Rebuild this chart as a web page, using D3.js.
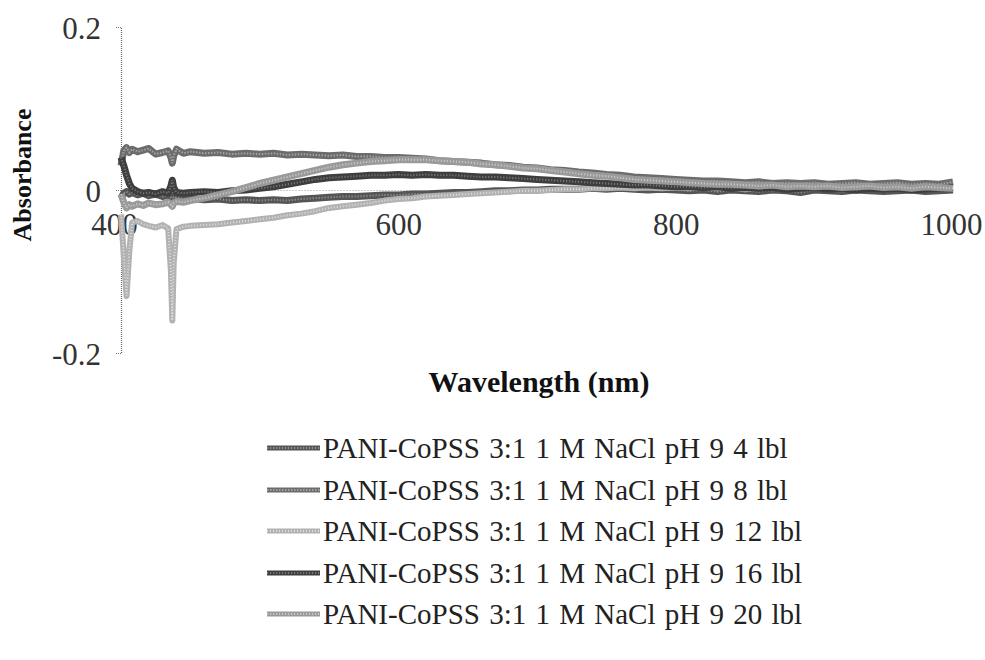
<!DOCTYPE html>
<html>
<head>
<meta charset="utf-8">
<script src="https://cdn.jsdelivr.net/npm/d3@7"></script>
<style>
  html, body { margin: 0; padding: 0; background: #fff; }
  svg { display: block; }
  text { font-family: "Liberation Serif", "Times New Roman", serif; }
</style>
</head>
<body>
<svg id="chart" width="985" height="660"></svg>
<script>
// ---------------- DATA ----------------
const wavelengths = [400,402,404,406,408,412,416,420,425,430,434,436,437,438,440,445,450,
  460,470,480,490,500,510,520,530,540,550,560,570,580,590,600,610,620,630,640,650,660,670,680,690,
  700,710,720,730,740,750,760,770,780,790,800,810,820,830,840,850,860,870,880,890,900,910,920,930,
  940,950,960,970,980,990,1000];

const seriesNames = [
  "PANI-CoPSS 3:1 1 M NaCl pH 9 4 lbl",
  "PANI-CoPSS 3:1 1 M NaCl pH 9 8 lbl",
  "PANI-CoPSS 3:1 1 M NaCl pH 9 12 lbl",
  "PANI-CoPSS 3:1 1 M NaCl pH 9 16 lbl",
  "PANI-CoPSS 3:1 1 M NaCl pH 9 20 lbl"
];

// 4 lbl
const abs4 = [-0.010,-0.004,-0.002,-0.005,-0.003,-0.006,-0.004,-0.007,-0.005,-0.008,-0.006,-0.009,-0.008,-0.010,-0.009,-0.011,-0.010,
  -0.012,-0.011,-0.013,-0.012,-0.013,-0.012,-0.013,-0.011,-0.010,-0.009,-0.008,-0.008,-0.007,-0.006,-0.006,-0.005,-0.005,-0.004,-0.003,
  -0.003,-0.002,-0.001,-0.001,0.000,0.000,0.001,0.001,0.001,0.002,0.001,0.002,0.001,0.000,0.001,0.000,-0.001,0.000,-0.002,0.000,
  -0.001,-0.002,0.000,-0.001,-0.003,0.000,-0.001,-0.002,0.000,-0.001,-0.002,-0.001,0.000,-0.002,-0.001,0.000];
// 8 lbl
const abs8 = [0.030,0.048,0.052,0.046,0.050,0.047,0.049,0.051,0.044,0.046,0.048,0.040,0.033,0.042,0.050,0.045,0.047,
  0.045,0.046,0.044,0.045,0.044,0.045,0.043,0.044,0.043,0.042,0.043,0.041,0.041,0.040,0.040,0.039,0.038,0.036,0.035,
  0.034,0.033,0.031,0.030,0.028,0.027,0.025,0.024,0.022,0.021,0.019,0.018,0.016,0.015,0.014,0.013,0.012,0.011,0.011,0.010,
  0.009,0.010,0.008,0.009,0.008,0.009,0.007,0.008,0.009,0.007,0.008,0.009,0.007,0.008,0.007,0.010];
// 12 lbl
const abs12 = [-0.030,-0.080,-0.130,-0.075,-0.040,-0.038,-0.042,-0.044,-0.046,-0.043,-0.047,-0.100,-0.160,-0.090,-0.048,-0.045,-0.044,
  -0.043,-0.042,-0.040,-0.038,-0.036,-0.034,-0.031,-0.029,-0.026,-0.022,-0.020,-0.018,-0.016,-0.013,-0.011,-0.010,-0.008,-0.007,-0.006,
  -0.005,-0.004,-0.003,-0.002,-0.001,-0.001,0.000,0.001,0.001,0.002,0.002,0.003,0.002,0.003,0.002,0.003,0.002,0.004,0.002,0.003,
  0.001,0.003,0.002,0.004,0.002,0.003,0.001,0.003,0.002,0.004,0.002,0.003,0.001,0.003,0.002,0.004];
// 16 lbl
const abs16 = [0.040,0.030,0.018,0.008,0.002,-0.002,-0.004,-0.003,-0.005,-0.002,-0.004,0.005,0.012,0.003,-0.003,-0.004,-0.003,
  -0.002,-0.003,-0.001,0.000,0.002,0.004,0.007,0.010,0.013,0.015,0.016,0.017,0.018,0.018,0.019,0.018,0.019,0.018,0.018,
  0.017,0.016,0.016,0.015,0.014,0.013,0.012,0.011,0.010,0.009,0.008,0.007,0.006,0.006,0.005,0.004,0.004,0.003,0.004,0.002,
  0.003,0.002,0.003,0.001,0.002,0.003,0.001,0.002,0.000,0.002,0.001,0.002,0.000,0.001,0.002,0.003];
// 20 lbl
const abs20 = [-0.005,-0.015,-0.022,-0.018,-0.020,-0.017,-0.019,-0.016,-0.018,-0.017,-0.015,-0.018,-0.020,-0.016,-0.014,-0.015,-0.013,
  -0.010,-0.006,-0.002,0.003,0.008,0.012,0.016,0.020,0.024,0.028,0.031,0.033,0.035,0.036,0.037,0.037,0.037,0.036,0.035,
  0.034,0.032,0.031,0.029,0.027,0.026,0.024,0.022,0.020,0.018,0.017,0.015,0.013,0.012,0.011,0.010,0.009,0.008,0.007,0.007,
  0.006,0.005,0.006,0.004,0.005,0.004,0.005,0.003,0.004,0.005,0.003,0.004,0.002,0.004,0.003,0.002];

const xTicks = [400, 600, 800, 1000];
const yTicks = [-0.2, 0, 0.2];
const yTickLabels = ["-0.2", "0", "0.2"];

// ---------------- CHART ----------------
const svg = d3.select("#chart");
const x = d3.scaleLinear().domain([400, 1000]).range([121, 953]);
const y = d3.scaleLinear().domain([-0.2, 0.2]).range([353, 27]);

const seriesValues = [abs4, abs8, abs12, abs16, abs20];
const styles = [
  {color: "#555555", tex: "#a0a0a0", dash: "1.2 1.8", w: 7},
  {color: "#6c6c6c", tex: "#b0b0b0", dash: "1.5 1.5", w: 7},
  {color: "#b2b2b2", tex: "#e8e8e8", dash: "1 2",     w: 6},
  {color: "#3e3e3e", tex: "#858585", dash: "1.2 1.8", w: 7},
  {color: "#9a9a9a", tex: "#d2d2d2", dash: "1.2 1.8", w: 7}
];

// y axis (dotted)
const yAxis = d3.axisLeft(y).tickValues(yTicks).tickSize(5).tickFormat((d, i) => yTickLabels[i]);
const gy = svg.append("g").attr("transform", "translate(121,0)").call(yAxis);
gy.select(".domain").attr("stroke", "#666").attr("stroke-dasharray", "1 1").attr("stroke-width", 1.2);
gy.selectAll(".tick line").attr("stroke", "#777").attr("stroke-dasharray", "1 1");
gy.selectAll(".tick text").attr("x", -20).attr("dy", "0.36em")
  .attr("font-size", 31).attr("fill", "#333").style("font-family", "Liberation Serif");

// x axis through y=0 (faint dotted)
const xAxis = d3.axisBottom(x).tickValues(xTicks).tickSize(0).tickFormat(d3.format("d"));
const gx = svg.append("g").attr("transform", `translate(0,${y(0)})`).call(xAxis);
gx.select(".domain").attr("stroke", "#999").attr("stroke-dasharray", "1 2").attr("stroke-width", 1);
gx.selectAll(".tick text").attr("y", 35).attr("dy", "0.32em")
  .attr("font-size", 31).attr("fill", "#333").style("font-family", "Liberation Serif")
  .attr("dx", d => d === 400 ? -7 : (d === 1000 ? -2 : 0));

// lines
const line = d3.line().x((d, i) => x(wavelengths[i])).y(d => y(d));
const gl = svg.append("g");
seriesValues.forEach((vals, k) => {
  const s = styles[k];
  gl.append("path").datum(vals).attr("d", line).attr("fill", "none")
    .attr("stroke", s.color).attr("stroke-width", s.w).attr("stroke-linejoin", "round");
  gl.append("path").datum(vals).attr("d", line).attr("fill", "none")
    .attr("stroke", s.tex).attr("stroke-width", 2).attr("stroke-dasharray", s.dash).attr("opacity", 0.8);
});

// axis titles
svg.append("text").attr("transform", "translate(31,175) rotate(-90)")
  .attr("text-anchor", "middle").attr("font-size", 26).attr("font-weight", "bold").attr("fill", "#111")
  .text("Absorbance");
svg.append("text").attr("x", 539).attr("y", 392)
  .attr("text-anchor", "middle").attr("font-size", 30).attr("font-weight", "bold").attr("fill", "#111")
  .text("Wavelength (nm)");

// legend
const legendY = [448, 490, 531, 573, 614];
const lg = svg.append("g");
seriesNames.forEach((name, k) => {
  const s = styles[k];
  const yy = legendY[k];
  lg.append("line").attr("x1", 267).attr("x2", 320).attr("y1", yy).attr("y2", yy)
    .attr("stroke", s.color).attr("stroke-width", 5);
  lg.append("line").attr("x1", 267).attr("x2", 320).attr("y1", yy).attr("y2", yy)
    .attr("stroke", s.tex).attr("stroke-width", 2).attr("stroke-dasharray", s.dash).attr("opacity", 0.8);
  lg.append("text").attr("x", 323).attr("y", yy).attr("dy", "0.35em")
    .attr("font-size", 29).attr("word-spacing", 2).attr("fill", "#222").text(name);
});
</script>
</body>
</html>
